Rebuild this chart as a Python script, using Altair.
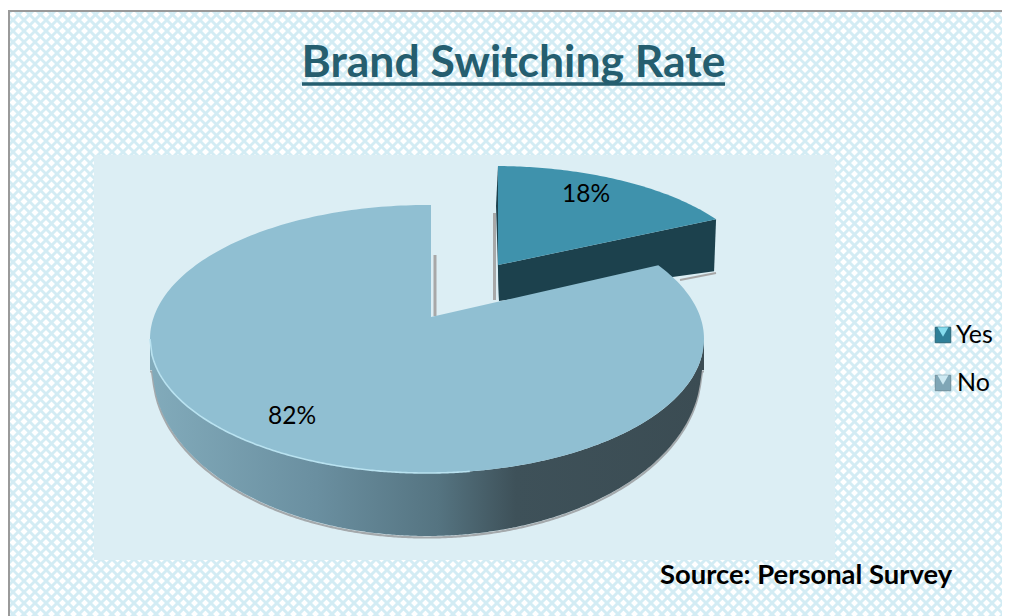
import numpy as np
import pandas as pd
import altair as alt

categories = ["Yes", "No"]
shares = [18, 82]
title_text = "Brand Switching Rate"
source_text = "Source: Personal Survey"

X = alt.Scale(domain=[8, 1002], nice=False, zero=False)
Y = alt.Scale(domain=[616, 8], nice=False, zero=False)
FONT = "Lato"
xq = lambda f="x": alt.X(f"{f}:Q", scale=X, axis=None)
yq = lambda f="y": alt.Y(f"{f}:Q", scale=Y, axis=None)


def rim(apex, center, a, b, start, end, n=120):
    """Points on the perspective ellipse, reached by rays from the apex at true pie angles."""
    al = np.radians(np.linspace(start, end, n))
    dx, dy = apex[0] - center[0], apex[1] - center[1]
    ux, uy = a * np.sin(al), -b * np.cos(al)
    A = (ux / a) ** 2 + (uy / b) ** 2
    B = 2 * (dx * ux / a ** 2 + dy * uy / b ** 2)
    C = (dx / a) ** 2 + (dy / b) ** 2 - 1
    t = (-B + np.sqrt(B ** 2 - 4 * A * C)) / (2 * A)
    return apex[0] + ux * t, apex[1] + uy * t


def polygon(xs, ys):
    return pd.DataFrame({"x": xs, "y": ys, "i": np.arange(len(xs))})


def filled(df, fill, stroke=None, sw=0):
    kw = dict(fill=fill, strokeWidth=sw, interpolate="linear")
    kw["stroke"] = stroke if stroke else fill
    return alt.Chart(df).mark_line(**kw).encode(x=xq(), y=yq(), order="i:Q")


def rule(x, y, x2, y2, color, width, opacity=1.0):
    df = pd.DataFrame({"x": [x], "y": [y], "x2": [x2], "y2": [y2]})
    return alt.Chart(df).mark_rule(color=color, strokeWidth=width, opacity=opacity).encode(
        x=xq(), y=yq(), x2="x2:Q", y2="y2:Q")


def box(x, y, x2, y2, color):
    df = pd.DataFrame({"x": [x], "y": [y], "x2": [x2], "y2": [y2]})
    return alt.Chart(df).mark_rect(color=color).encode(x=xq(), y=yq(), x2="x2:Q", y2="y2:Q")


def label(x, y, text, size, color="#000000", weight="normal", align="center"):
    df = pd.DataFrame({"x": [x], "y": [y], "t": [text]})
    return alt.Chart(df).mark_text(font=FONT, fontSize=size, color=color, fontWeight=weight,
                                   align=align, baseline="middle").encode(x=xq(), y=yq(), text="t:N")


# diagonal lattice background
ca = np.arange(-700, 1010, 11.0)
cb = np.arange(0, 1760, 11.0)
diag_a = pd.DataFrame({"x": ca, "y": 0 * ca, "x2": ca + 700, "y2": 0 * ca + 700})
diag_b = pd.DataFrame({"x": cb, "y": 0 * cb, "x2": cb - 700, "y2": 0 * cb + 700})
lat_a = alt.Chart(diag_a).mark_rule(color="#D3ECF4", strokeWidth=2.9, clip=True).encode(
    x=xq(), y=yq(), x2="x2:Q", y2="y2:Q")
lat_b = alt.Chart(diag_b).mark_rule(color="#D3ECF4", strokeWidth=2.9, clip=True).encode(
    x=xq(), y=yq(), x2="x2:Q", y2="y2:Q")

# pie geometry
frac_yes = shares[0] / sum(shares) * 360
no_apex, no_c, no_a, no_b = (431, 317), (427, 339), 277, 134
yes_apex, yes_c, yes_a, yes_b = (498, 265), (493.5, 285), 267, 119

no_x, no_y = rim(no_apex, no_c, no_a, no_b, frac_yes, 360, 240)
yes_x, yes_y = rim(yes_apex, yes_c, yes_a, yes_b, 0, frac_yes, 80)

no_top = polygon(np.r_[no_apex[0], no_x, no_apex[0]], np.r_[no_apex[1], no_y, no_apex[1]])
yes_top = polygon(np.r_[yes_apex[0], yes_x, yes_apex[0]], np.r_[yes_apex[1], yes_y, yes_apex[1]])
ex, ey = yes_x[-1], yes_y[-1]
yes_wall = polygon([yes_apex[0], ex, ex - 2, yes_apex[0] + 1, yes_apex[0]],
                   [yes_apex[1], ey, ey + 52, yes_apex[1] + 36, yes_apex[1]])
yes_edge = polygon([yes_x[0], yes_apex[0] + 1, yes_apex[0] + 1, yes_x[0] - 2],
                   [yes_y[0], yes_apex[1], yes_apex[1] + 36, yes_y[0] + 40])

wx = np.linspace(150, 704, 280)
upper = 339 + 134 * np.sqrt(np.clip(1 - ((wx - 427) / 277) ** 2, 0, 1))
lower = 370 + 166 * np.sqrt(np.clip(1 - ((wx - 427) / 274) ** 2, 0, 1))
wall = pd.DataFrame({"x": wx, "y": lower, "y2": upper})
wall_fill = alt.Gradient(gradient="linear", x1=0, x2=1, y1=0, y2=0, stops=[
    alt.GradientStop(offset=0.0, color="#82ABBB"),
    alt.GradientStop(offset=0.3, color="#6A8FA0"),
    alt.GradientStop(offset=0.52, color="#557481"),
    alt.GradientStop(offset=0.66, color="#3E5159"),
    alt.GradientStop(offset=1.0, color="#3B4C53"),
])
wall_layer = alt.Chart(wall).mark_area(fill=wall_fill, interpolate="linear").encode(
    x=xq(), y=yq(), y2="y2:Q")
shadow_line = alt.Chart(pd.DataFrame({"x": wx, "y": lower + 1.5})).mark_line(
    color="#A4A9AC", strokeWidth=2.2).encode(x=xq(), y=yq())
hl = wall[wall.x < 470]
highlight = alt.Chart(pd.DataFrame({"x": hl.x, "y": hl.y2})).mark_line(
    color="#B9E2F0", strokeWidth=1.6).encode(x=xq(), y=yq())


def swatch(cy, base, light, edge):
    df = pd.DataFrame({"x": [943], "y": [cy]})
    sq = alt.Chart(df).mark_point(shape="square", size=240, filled=True, color=base,
                                  stroke=edge, strokeWidth=1, opacity=1).encode(x=xq(), y=yq())
    tr = alt.Chart(pd.DataFrame({"x": [943], "y": [cy - 3]})).mark_point(
        shape="triangle-down", size=120, filled=True, color=light, opacity=1).encode(x=xq(), y=yq())
    return sq + tr


layers = [
    box(8, 8, 1002, 616, "#FFFFFF"),
    lat_a, lat_b,
    box(8, 8, 1002, 10, "#FFFFFF"),
    rule(8, 11, 1002, 11, "#9A9A9A", 2),
    rule(9, 11, 9, 616, "#9A9A9A", 2),
    box(94, 155, 835, 560, "#DCEEF4"),
    rule(494.5, 213, 494.5, 300, "#A8A8A8", 3),
    rule(435, 255, 435, 316, "#A8A8A8", 3),
    rule(680, 280, 716, 273, "#A6A6A6", 2),
    filled(yes_edge, "#1C414D"),
    filled(yes_wall, "#1C414D"),
    filled(yes_top, "#3F92AC"),
    shadow_line,
    wall_layer,
    filled(no_top, "#90BFD2"),
    highlight,
    label(513.5, 64, title_text, 44.5, "#255E6F", "bold"),
    rule(302, 84, 725, 84, "#255E6F", 3.5),
    label(586, 195, f"{shares[0]}%", 24.5),
    label(292, 417, f"{shares[1]}%", 24.5),
    swatch(335, "#2F7F98", "#86DCEE", "#2A6678"),
    swatch(383, "#7FA6B6", "#CDE9F2", "#6F8E9B"),
    label(956, 335, categories[0], 25, align="left"),
    label(957, 383, categories[1], 25, align="left"),
    label(660, 576, source_text, 27.4, "#000000", "bold", align="left"),
]

chart = alt.layer(*layers).properties(
    width=994, height=608, padding=0,
    autosize=alt.AutoSizeParams(type="none"),
).configure_view(stroke=None)

chart.save("out.html", embed_options={"renderer": "svg", "actions": False})
